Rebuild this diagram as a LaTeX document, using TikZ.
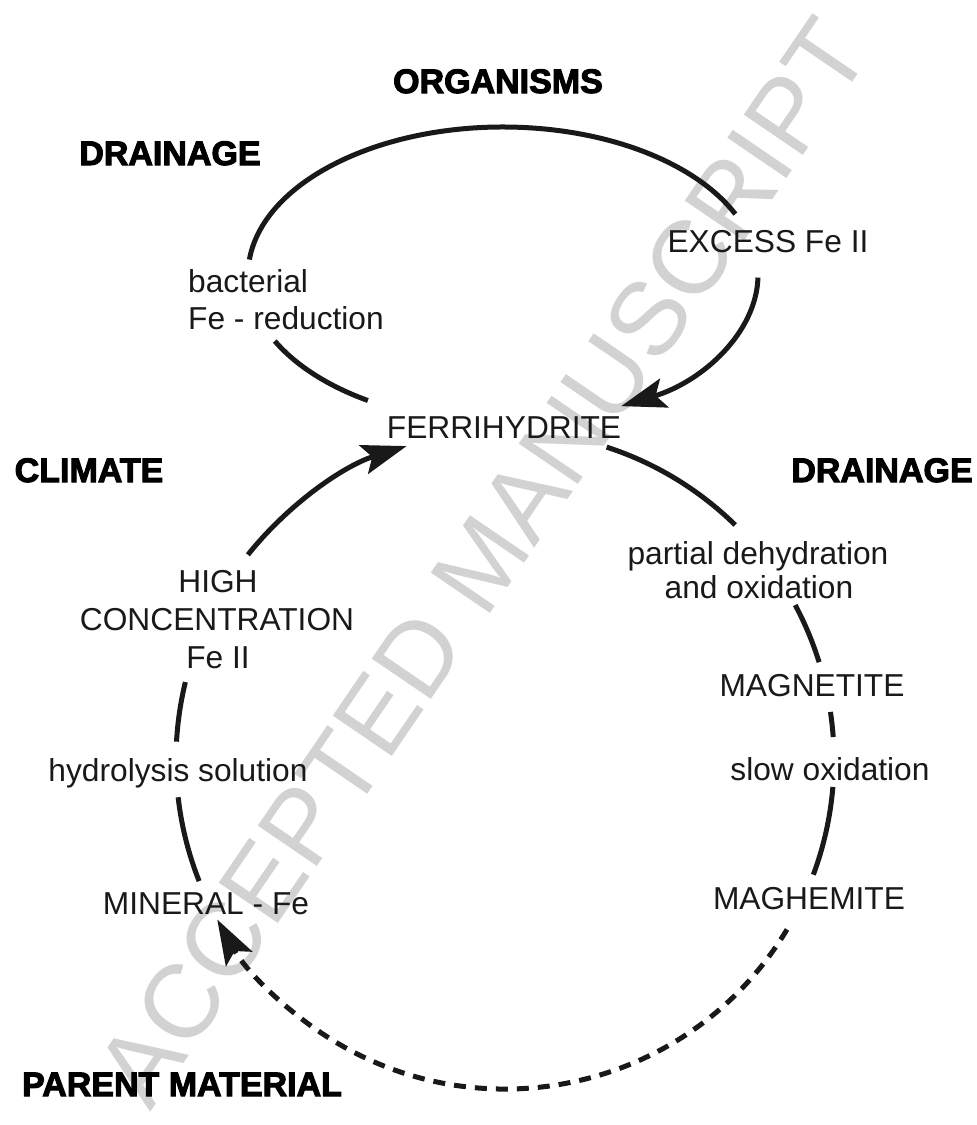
\documentclass[tikz,border=0pt]{standalone}
\usepackage{fontspec}
\setmainfont{Liberation Sans}
\newfontfamily\heavyfont[FakeBold=3]{Liberation Sans Bold}
\usetikzlibrary{arrows.meta,calc}
\definecolor{wm}{RGB}{210,210,210}
\definecolor{ink}{RGB}{25,25,25}
\begin{document}
\begin{tikzpicture}[x=1pt,y=-1pt,
  lbl/.style={inner sep=0pt, anchor=base, font=\fontsize{31.7}{37}\selectfont, text=ink},
  hv/.style={inner sep=0pt, anchor=base, font=\heavyfont\fontsize{34}{40}\selectfont, text=black},
  ln/.style={line width=5pt, draw=ink},
  tip/.style={-{Stealth[length=45pt,width=30pt,inset=9pt]}},
  dsh/.style={dash pattern=on 12pt off 9pt}
]
\fill[white] (0,0) rectangle (977,1125);
\useasboundingbox (0,0) rectangle (977,1125);

% watermark
\node[rotate=55.7, inner sep=0pt, text=wm, font=\fontsize{104}{104}\selectfont] (wmk) at (482,562) {ACCEPTED MANUSCRIPT};

% heavy labels
\node[hv] (org) at (498,93) {ORGANISMS};
\node[hv] (drainL) at (170,165) {DRAINAGE};
\node[hv] (climate) at (89,482) {CLIMATE};
\node[hv] (drainR) at (882,482) {DRAINAGE};
\node[hv] (parent) at (182,1096) {PARENT MATERIAL};

% labels
\node[lbl] (excess) at (768,252) {EXCESS Fe II};
\node[lbl, anchor=base west] (bact1) at (188,292) {bacterial};
\node[lbl, anchor=base west] (bact2) at (188,329) {Fe - reduction};
\node[lbl] (ferri) at (504,438) {FERRIHYDRITE};
\node[lbl] (part1) at (758,564) {partial dehydration};
\node[lbl] (part2) at (759,598) {and oxidation};
\node[lbl] (high1) at (218,592) {HIGH};
\node[lbl] (high2) at (217,630) {CONCENTRATION};
\node[lbl] (high3) at (218,668) {Fe II};
\node[lbl] (magn) at (812,696) {MAGNETITE};
\node[lbl] (hydro) at (178,781) {hydrolysis solution};
\node[lbl] (slow) at (830,780) {slow oxidation};
\node[lbl] (mineral) at (206,914) {MINERAL - Fe};
\node[lbl] (maghem) at (809,909) {MAGHEMITE};

% upper ellipse
\coordinate (ec) at (503,275);
\coordinate (e1) at ($(ec)+(238:255pt and 148pt)$);
\coordinate (e2) at ($(ec)+(174:255pt and 148pt)$);
\coordinate (e3) at ($(ec)+(-1:255pt and 148pt)$);
\draw[ln] (e1) arc[start angle=238, end angle=206.5, x radius=255pt, y radius=148pt];
\draw[ln] (e2) arc[start angle=174, end angle=24.3, x radius=255pt, y radius=148pt];
\draw[ln, tip] (e3) arc[start angle=-1, end angle=-62.4, x radius=255pt, y radius=148pt];

% lower circle
\coordinate (cc) at (505,760);
\coordinate (r1) at ($(cc)+(72:329pt)$);
\coordinate (r2) at ($(cc)+(28.1:329pt)$);
\coordinate (r3) at ($(cc)+(8.4:329pt)$);
\coordinate (r4) at ($(cc)+(-4.7:329pt)$);
\coordinate (r5) at ($(cc)+(-31:329pt)$);
\coordinate (l1) at ($(cc)+(201.6:329pt)$);
\coordinate (l2) at ($(cc)+(176.8:329pt)$);
\coordinate (l3) at ($(cc)+(141.4:329pt)$);
\draw[ln] (r1) arc[start angle=72, end angle=45.6, radius=329pt];
\draw[ln] (r2) arc[start angle=28.1, end angle=17.3, radius=329pt];
\draw[ln] (r3) arc[start angle=8.4, end angle=4, radius=329pt];
\draw[ln] (r4) arc[start angle=-4.7, end angle=-20.4, radius=329pt];
\draw[ln, dsh, tip] (r5) arc[start angle=-31, end angle=-151, radius=329pt];
\draw[ln] (l1) arc[start angle=201.6, end angle=186.5, radius=329pt];
\draw[ln] (l2) arc[start angle=176.8, end angle=166.3, radius=329pt];
\draw[ln, tip] (l3) arc[start angle=141.4, end angle=107.4, radius=329pt];
\end{tikzpicture}
\end{document}
